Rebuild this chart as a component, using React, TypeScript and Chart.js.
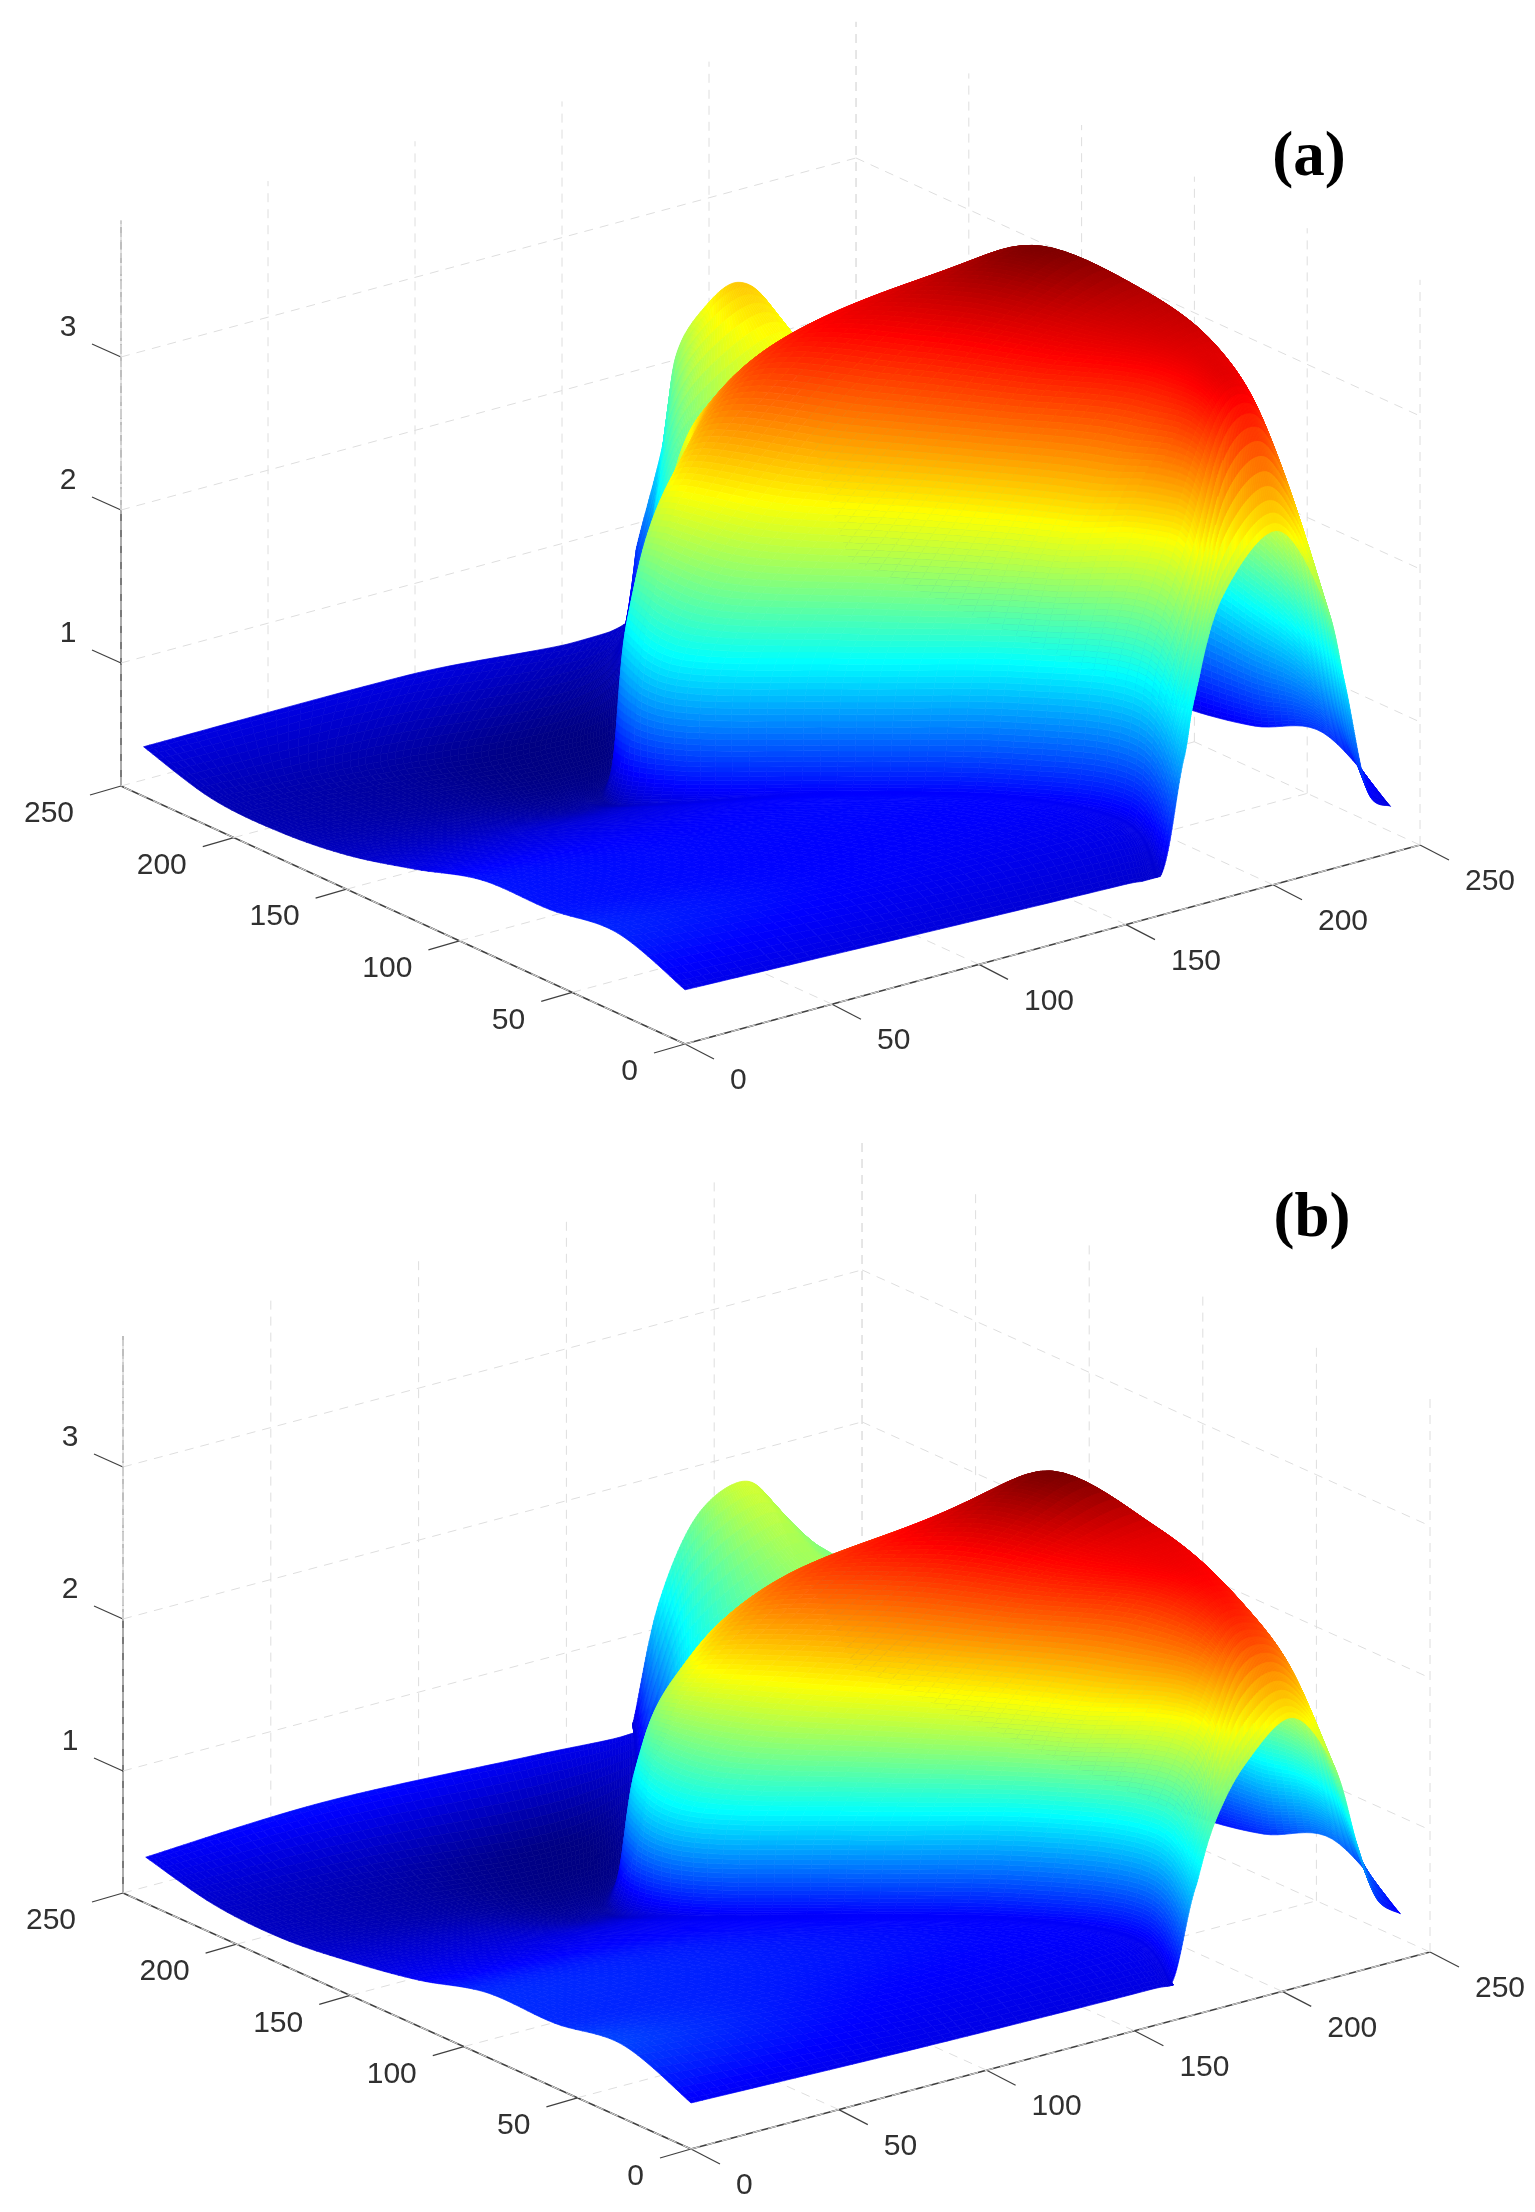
import React, { useEffect, useRef } from "react";
import { Chart, registerables } from "chart.js";

Chart.register(...registerables);

const xTicks = [0, 50, 100, 150, 200, 250];
const yTicks = [0, 50, 100, 150, 200, 250];
const zTicks = [1, 2, 3];
const middleY = [30, 60, 90, 120, 150, 180, 210];

const frontYA = [0, 0, 0, 0, 0, 6, 20, 19, 6, 2, 0, 0];
const backYA = [240, 240, 240, 252, 252, 263, 255, 245, 242, 240, 240, 240];
const sectionXA = [
  [0, 80, 150, 162, 170, 178, 198, 216, 222, 226, 232, 240],
  [0, 85, 162, 174, 180, 194, 205, 215, 223, 230, 236, 240],
  [0, 75, 145, 155, 162, 177, 208, 222, 228, 232, 236, 240],
  [0, 60, 110, 120, 125, 154, 190, 222, 228, 232, 236, 240],
  [0, 45, 78, 88, 92, 128, 172, 207, 222, 231, 236, 240],
  [0, 45, 80, 90, 96, 112, 150, 205, 218, 228, 235, 240],
  [0, 50, 95, 118, 124, 134, 146, 195, 210, 224, 234, 240],
  [0, 55, 115, 140, 145, 151, 162, 200, 213, 225, 234, 240],
  [0, 90, 162, 177, 186, 199, 203, 206, 214, 222, 232, 240],
];
const sectionZA = [
  [0.55, 0.5, 0.46, 0.46, 1.2, 1.5, 1.95, 2.3, 1.9, 1.36, 0.65, 0.5],
  [0.72, 0.6, 0.56, 0.6, 1.46, 2.29, 2.95, 3.06, 2.75, 2.2, 1.3, 0.78],
  [0.67, 0.62, 0.62, 0.62, 1.46, 2.29, 3.05, 3.21, 3.1, 2.5, 1.5, 0.62],
  [0.66, 0.62, 0.62, 0.62, 1.46, 2.29, 3.05, 3.32, 3.2, 2.6, 1.6, 0.53],
  [0.53, 0.52, 0.52, 0.58, 1.46, 2.29, 3.05, 3.49, 3.3, 2.7, 1.6, 0.5],
  [0.42, 0.38, 0.32, 0.42, 1.46, 2.29, 3.0, 3.17, 3.0, 2.5, 1.5, 0.5],
  [0.37, 0.3, 0.22, 0.3, 1.0, 1.75, 2.4, 2.67, 2.5, 2.1, 1.3, 0.5],
  [0.385, 0.33, 0.22, 0.32, 0.7, 1.3, 1.8, 2.2, 2.05, 1.7, 1.1, 0.5],
  [0.52, 0.52, 0.46, 0.83, 1.46, 1.9, 2.25, 2.45, 2.29, 1.8, 1.0, 0.5],
];

const frontYB = [0, 0, 0, 0, 0, 6, 16, 15, 6, 2, 0, 0];
const backYB = [240, 240, 240, 240, 249, 254, 269, 264, 256, 242, 240, 240];
const sectionXB = [
  [0, 80, 155, 163, 171, 182, 200, 215, 222, 227, 232, 240],
  [0, 85, 162, 174, 181, 196, 206, 215, 223, 230, 236, 240],
  [0, 75, 145, 155, 163, 177, 208, 222, 228, 232, 236, 240],
  [0, 60, 110, 120, 126, 154, 190, 222, 228, 232, 236, 240],
  [0, 45, 78, 88, 93, 128, 172, 209, 222, 231, 236, 240],
  [0, 45, 80, 90, 97, 112, 150, 205, 218, 228, 235, 240],
  [0, 50, 95, 118, 125, 134, 146, 195, 210, 224, 234, 240],
  [0, 55, 115, 140, 145, 151, 162, 200, 213, 225, 234, 240],
  [0, 60, 130, 163, 172, 184, 208, 219, 223, 223, 232, 240],
];
const sectionZB = [
  [0.5, 0.46, 0.44, 0.46, 1.05, 1.37, 1.59, 1.82, 1.53, 1.0, 0.64, 0.5],
  [0.68, 0.52, 0.5, 0.52, 1.16, 1.79, 2.2, 2.25, 2.1, 1.75, 1.2, 0.79],
  [0.62, 0.58, 0.52, 0.52, 1.16, 1.79, 2.35, 2.42, 2.25, 1.95, 1.2, 0.62],
  [0.62, 0.58, 0.52, 0.52, 1.16, 1.79, 2.35, 2.52, 2.42, 2.05, 1.25, 0.53],
  [0.5, 0.48, 0.48, 0.5, 1.16, 1.79, 2.35, 2.74, 2.55, 2.1, 1.3, 0.5],
  [0.42, 0.38, 0.3, 0.4, 1.16, 1.7, 2.2, 2.28, 2.2, 1.95, 1.2, 0.5],
  [0.37, 0.3, 0.22, 0.3, 0.9, 1.3, 1.6, 1.85, 1.8, 1.6, 1.05, 0.5],
  [0.39, 0.33, 0.22, 0.32, 0.5, 0.7, 1.15, 1.55, 1.5, 1.4, 0.95, 0.5],
  [0.5, 0.55, 0.49, 0.46, 0.45, 1.1, 1.45, 1.67, 1.6, 1.25, 0.85, 0.5],
];

const panelA = {
  tag: "(a)", tagAt: [1309, 159], top: 0, bottom: 1130,
  origin: [685, 1044], xEnd: [1420, 845], yEnd: [121, 786], zUnit: 153,
  zMin: 0.196, zMax: 3.89, cMin: 0.2, cMax: 3.5,
  sx: sectionXA, sz: sectionZA, frontY: frontYA, backY: backYA,
};
const panelB = {
  tag: "(b)", tagAt: [1312, 1220], top: 1130, bottom: 2212,
  origin: [691, 2149], xEnd: [1430, 1952], yEnd: [123, 1893], zUnit: 152,
  zMin: 0.197, zMax: 3.86, cMin: 0.2, cMax: 2.74,
  sx: sectionXB, sz: sectionZB, frontY: frontYB, backY: backYB,
};

type Panel = typeof panelA;

const clamp01 = (v: number) => Math.max(0, Math.min(1, v));
function jet(t: number) {
  const r = clamp01(Math.min(4 * t - 1.5, -4 * t + 4.5));
  const g = clamp01(Math.min(4 * t - 0.5, -4 * t + 3.5));
  const b = clamp01(Math.min(4 * t + 0.5, -4 * t + 2.5));
  return `rgb(${Math.round(r * 255)},${Math.round(g * 255)},${Math.round(b * 255)})`;
}

function makeProject(p: Panel) {
  const ux = (p.xEnd[0] - p.origin[0]) / 250, vx = (p.xEnd[1] - p.origin[1]) / 250;
  const uy = (p.yEnd[0] - p.origin[0]) / 250, vy = (p.yEnd[1] - p.origin[1]) / 250;
  return (x: number, y: number, z: number) => ({
    x: p.origin[0] + ux * x + uy * y,
    y: p.origin[1] + vx * x + vy * y - (z - p.zMin) * p.zUnit,
  });
}

const cr = (a: number, b: number, c: number, d: number, t: number) =>
  0.5 * (2 * b + (c - a) * t + (2 * a - 5 * b + 4 * c - d) * t * t + (3 * b - a - 3 * c + d) * t * t * t);

// Smooth between the read values; the limits keep a cliff from ringing and
// depend only on the two neighbours along each direction, so cells stay joined.
function sample(grid: number[][], j: number, i: number, v: number, u: number, limited: boolean) {
  const J = grid.length - 1, I = grid[0].length - 1;
  const col: number[] = [];
  for (let k = -1; k <= 2; k++) {
    const row = grid[Math.max(0, Math.min(J, j + k))];
    const g = (n: number) => row[Math.max(0, Math.min(I, n))];
    let val = cr(g(i - 1), g(i), g(i + 1), g(i + 2), u);
    if (limited) {
      val = Math.max(Math.min(g(i), g(i + 1)) - 0.01, Math.min(Math.max(g(i), g(i + 1)) + 0.04, val));
    }
    col.push(val);
  }
  let out = cr(col[0], col[1], col[2], col[3], v);
  if (limited) {
    out = Math.max(Math.min(col[1], col[2]) - 0.01, Math.min(Math.max(col[1], col[2]) + 0.04, out));
  }
  return out;
}

function buildSurface(p: Panel) {
  const project = makeProject(p);
  const yGrid = [p.frontY, ...middleY.map((y) => p.sx[0].map(() => y)), p.backY];
  const nu = 24, nv = 10;
  const J = yGrid.length - 1, I = p.sx[0].length - 1;
  const quads: { pts: { x: number; y: number }[]; color: string; depth: number }[] = [];
  for (let j = 0; j < J; j++) {
    for (let i = 0; i < I; i++) {
      const nodes: { x: number; y: number; z: number }[][] = [];
      for (let a = 0; a <= nv; a++) {
        const line: { x: number; y: number; z: number }[] = [];
        for (let b = 0; b <= nu; b++) {
          const v = a / nv, u = b / nu;
          const x = Math.max(0, Math.min(240, sample(p.sx, j, i, v, u, false)));
          const y = Math.max(0, sample(yGrid, j, i, v, u, false));
          const z = sample(p.sz, j, i, v, u, true);
          line.push({ x, y, z });
        }
        nodes.push(line);
      }
      for (let a = 0; a < nv; a++) {
        for (let b = 0; b < nu; b++) {
          const c = [nodes[a][b], nodes[a][b + 1], nodes[a + 1][b + 1], nodes[a + 1][b]];
          const mx = (c[0].x + c[1].x + c[2].x + c[3].x) / 4;
          const my = (c[0].y + c[1].y + c[2].y + c[3].y) / 4;
          const mz = (c[0].z + c[1].z + c[2].z + c[3].z) / 4;
          quads.push({
            pts: c.map((n) => project(n.x, n.y, n.z)),
            color: jet((mz - p.cMin) / (p.cMax - p.cMin)),
            depth: (mx * 0.609 + my * 0.793) * 3.469 - mz * 57.45,
          });
        }
      }
    }
  }
  quads.sort((a, b) => b.depth - a.depth);
  return quads;
}

function buildDatasets(p: Panel) {
  const P = makeProject(p);
  const sets: any[] = [];
  const add = (a: any, b: any, color: string, width: number, dash: number[] = []) =>
    sets.push({
      data: [a, b], showLine: true, pointRadius: 0, borderColor: color,
      borderWidth: width, borderDash: dash, fill: false,
    });
  const grid = "#dedede";
  const gd = [9, 7];
  const z0 = p.zMin, z1 = p.zMax;
  xTicks.forEach((t) => {
    add(P(t, 0, z0), P(t, 250, z0), grid, 1, gd);
    add(P(t, 250, z0), P(t, 250, z1), grid, 1, gd);
  });
  yTicks.forEach((t) => {
    add(P(0, t, z0), P(250, t, z0), grid, 1, gd);
    add(P(250, t, z0), P(250, t, z1), grid, 1, gd);
  });
  zTicks.forEach((t) => {
    add(P(0, 250, t), P(250, 250, t), grid, 1, gd);
    add(P(250, 250, t), P(250, 0, t), grid, 1, gd);
  });
  const dark = "#404040";
  add(P(0, 0, z0), P(250, 0, z0), dark, 1.4);
  add(P(0, 0, z0), P(0, 250, z0), dark, 1.4);
  add(P(0, 250, z0), P(0, 250, 2), dark, 1.4);
  add(P(0, 250, 2), P(0, 250, z1), "#dddddd", 1.4);
  add(P(0, 250, 2), P(0, 250, z1), dark, 1.4, [10, 3]);
  add(P(0, 0, z0), P(100, 0, z0), "#c8c8c8", 1.4, [5, 8]);
  add(P(0, 0, z0), P(0, 110, z0), "#c8c8c8", 1.4, [5, 8]);
  xTicks.forEach((t) => {
    const a = P(t, 0, z0);
    add(a, { x: a.x + 29, y: a.y + 15 }, dark, 1.2);
  });
  yTicks.forEach((t) => {
    const a = P(0, t, z0);
    add(a, { x: a.x - 31, y: a.y + 9 }, dark, 1.2);
  });
  zTicks.forEach((t) => {
    const a = P(0, 250, t);
    add(a, { x: a.x - 29, y: a.y - 13 }, dark, 1.2);
  });
  return sets;
}

function makeChart(canvas: HTMLCanvasElement, p: Panel) {
  const quads = buildSurface(p);
  const P = makeProject(p);
  const surfacePlugin = {
    id: "surface",
    afterDatasetsDraw(chart: any) {
      const { ctx, scales } = chart;
      const sx = (v: number) => scales.x.getPixelForValue(v);
      const sy = (v: number) => scales.y.getPixelForValue(v);
      ctx.save();
      ctx.lineWidth = 0.7;
      ctx.lineJoin = "round";
      for (const q of quads) {
        ctx.beginPath();
        q.pts.forEach((n, k) => (k ? ctx.lineTo(sx(n.x), sy(n.y)) : ctx.moveTo(sx(n.x), sy(n.y))));
        ctx.closePath();
        ctx.fillStyle = q.color;
        ctx.strokeStyle = q.color;
        ctx.fill();
        ctx.stroke();
      }
      ctx.fillStyle = "#303030";
      ctx.font = '30px "Liberation Sans", sans-serif';
      ctx.textBaseline = "middle";
      ctx.textAlign = "left";
      xTicks.forEach((t) => {
        const a = P(t, 0, p.zMin);
        ctx.fillText(String(t), sx(a.x + 45), sy(a.y + 37));
      });
      ctx.textAlign = "right";
      yTicks.forEach((t) => {
        const a = P(0, t, p.zMin);
        ctx.fillText(String(t), sx(a.x - 47), sy(a.y + 28));
      });
      ctx.textAlign = "center";
      zTicks.forEach((t) => {
        const a = P(0, 250, t);
        ctx.fillText(String(t), sx(a.x - 53), sy(a.y - 29));
      });
      ctx.fillStyle = "#000000";
      ctx.font = 'bold 63px "Liberation Serif", serif';
      ctx.fillText(p.tag, sx(p.tagAt[0]), sy(p.tagAt[1]));
      ctx.restore();
    },
  };
  return new Chart(canvas, {
    type: "scatter",
    data: { datasets: buildDatasets(p) },
    plugins: [surfacePlugin],
    options: {
      animation: false,
      responsive: false,
      events: [],
      layout: { padding: 0 },
      plugins: { legend: { display: false }, tooltip: { enabled: false } },
      scales: {
        x: { type: "linear", display: false, min: 0, max: 1535 },
        y: { type: "linear", display: false, min: p.top, max: p.bottom, reverse: true },
      },
    },
  } as any);
}

function Panel3D({ panel }: { panel: Panel }) {
  const ref = useRef<HTMLCanvasElement>(null);
  useEffect(() => {
    const chart = makeChart(ref.current!, panel);
    return () => chart.destroy();
  }, [panel]);
  return (
    <canvas
      ref={ref}
      width={1535}
      height={panel.bottom - panel.top}
      style={{ display: "block", width: 1535, height: panel.bottom - panel.top }}
    />
  );
}

export default function App() {
  return (
    <div style={{ position: "absolute", left: 0, top: 0, width: 1535, height: 2212, background: "#fff" }}>
      <Panel3D panel={panelA} />
      <Panel3D panel={panelB} />
    </div>
  );
}
